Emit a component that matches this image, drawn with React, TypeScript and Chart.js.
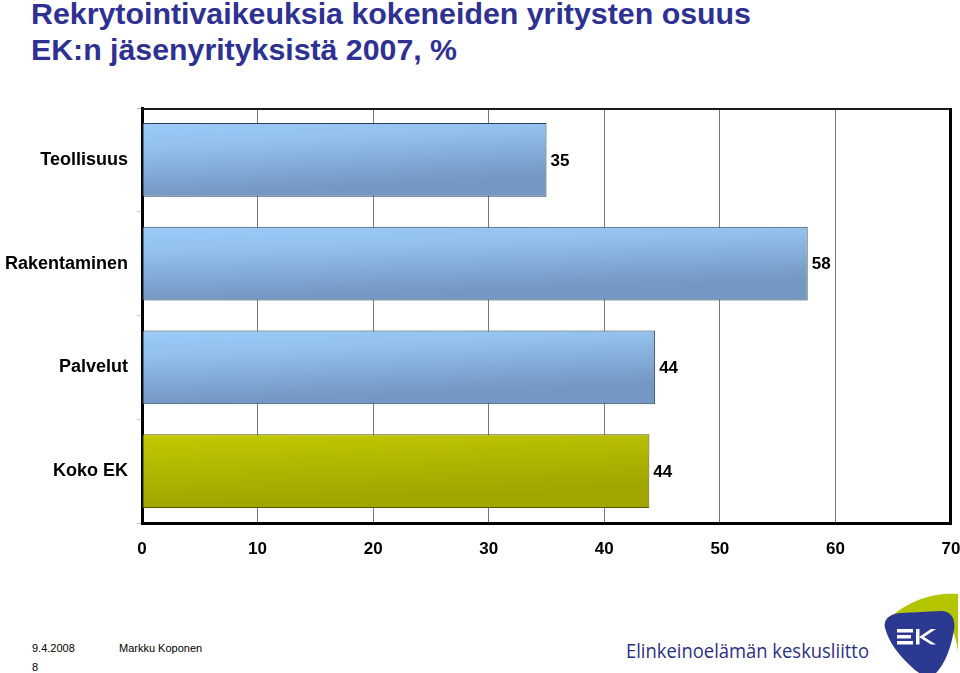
import React, { useEffect, useRef } from "react";
import { Chart, registerables } from "chart.js";

Chart.register(...registerables);

const categories = ["Teollisuus", "Rakentaminen", "Palvelut", "Koko EK"];
const shares = [35.0, 57.6, 44.4, 43.9];
const xTicks = [0, 10, 20, 30, 40, 50, 60, 70];
const titleLines = ["Rekrytointivaikeuksia kokeneiden yritysten osuus", "EK:n jäsenyrityksistä 2007, %"];

const FONT = "'Liberation Sans', Arial, Helvetica, sans-serif";

const blueTop = "#9ccbfa";
const blueBottom = "#7398c3";
const oliveTop = "#c2ca00";
const oliveBottom = "#9fa600";

function barFill(ctx: any) {
  const chart = ctx.chart;
  const area = chart.chartArea;
  const i = ctx.dataIndex;
  const isTotal = i === categories.length - 1;
  if (!area || i === undefined) return isTotal ? oliveTop : blueTop;
  const xs = chart.scales.x;
  const ys = chart.scales.y;
  const x0 = xs.getPixelForValue(0);
  const x1 = xs.getPixelForValue(shares[i]);
  const yc = ys.getPixelForValue(i);
  const half = 37;
  const w = Math.max(1, x1 - x0);
  const dx = (0.3 * (2 * half) * (2 * half)) / w;
  const g = chart.ctx.createLinearGradient(x0, yc - half, x0 + dx, yc + half);
  if (isTotal) {
    g.addColorStop(0, oliveTop);
    g.addColorStop(1, oliveBottom);
  } else {
    g.addColorStop(0, blueTop);
    g.addColorStop(0.35, "#93c0ec");
    g.addColorStop(1, blueBottom);
  }
  return g;
}

const framePlugin = {
  id: "frame",
  afterDraw(chart: any) {
    const { ctx, chartArea } = chart;
    ctx.save();
    ctx.strokeStyle = "#1a1a1a";
    ctx.lineWidth = 2;
    ctx.beginPath();
    ctx.moveTo(chartArea.left, chartArea.top + 1);
    ctx.lineTo(chartArea.right, chartArea.top + 1);
    ctx.stroke();
    ctx.strokeStyle = "#000";
    ctx.lineWidth = 3;
    ctx.beginPath();
    ctx.moveTo(chartArea.right - 0.5, chartArea.top);
    ctx.lineTo(chartArea.right - 0.5, chartArea.bottom);
    ctx.stroke();
    ctx.restore();
  },
};

const valueLabelPlugin = {
  id: "valueLabels",
  afterDatasetsDraw(chart: any) {
    const { ctx } = chart;
    const meta = chart.getDatasetMeta(0);
    ctx.save();
    ctx.font = `bold 17px ${FONT}`;
    ctx.fillStyle = "#000";
    ctx.textAlign = "left";
    ctx.textBaseline = "middle";
    meta.data.forEach((el: any, i: number) => {
      ctx.fillText(String(Math.round(shares[i])), el.x + 4, el.y + 1);
    });
    ctx.restore();
  },
};

function ChartCanvas() {
  const ref = useRef<HTMLCanvasElement | null>(null);
  useEffect(() => {
    if (!ref.current) return;
    const chart = new Chart(ref.current, {
      type: "bar",
      data: {
        labels: categories,
        datasets: [
          {
            data: shares,
            backgroundColor: barFill,
            borderColor: categories.map((_, i) => (i === categories.length - 1 ? "#555800" : "#2e3e52")),
            borderWidth: 1,
            borderSkipped: false,
            categoryPercentage: 1,
            barPercentage: 0.713,
          },
        ],
      },
      options: {
        indexAxis: "y",
        animation: false,
        responsive: false,
        devicePixelRatio: 1,
        layout: { padding: { left: 0, right: 9, top: 108, bottom: 100 } },
        plugins: { legend: { display: false }, tooltip: { enabled: false }, title: { display: false } },
        scales: {
          x: {
            type: "linear",
            min: xTicks[0],
            max: xTicks[xTicks.length - 1],
            afterBuildTicks: (scale: any) => {
              scale.ticks = xTicks.map((v) => ({ value: v }));
            },
            afterFit: (scale: any) => {
              scale.height = 50;
              scale.paddingLeft = 0;
              scale.paddingRight = 0;
            },
            ticks: {
              color: "#000",
              font: { family: FONT, size: 17, weight: "bold" },
              padding: 16,
              maxRotation: 0,
            },
            grid: { color: "#7a7a7a", lineWidth: 1, drawTicks: false },
            border: { display: true, color: "#000", width: 3 },
          },
          y: {
            type: "category",
            afterFit: (scale: any) => {
              scale.width = 142;
              scale.paddingTop = 0;
              scale.paddingBottom = 0;
            },
            ticks: {
              color: "#000",
              font: { family: FONT, size: 18, weight: "bold" },
              padding: 9,
            },
            grid: { drawOnChartArea: false, drawTicks: true, tickLength: 5, color: "#c8c8c8", offset: true },
            border: { display: true, color: "#000", width: 3 },
          },
        },
      },
      plugins: [framePlugin, valueLabelPlugin],
    } as any);
    return () => chart.destroy();
  }, []);
  return (
    <canvas
      ref={ref}
      width={960}
      height={673}
      style={{ position: "absolute", left: 0, top: 0, width: 960, height: 673 }}
    />
  );
}

export default function App() {
  useEffect(() => {
    document.body.style.margin = "0";
  }, []);
  return (
    <div style={{ position: "absolute", left: 0, top: 0, width: 960, height: 673, background: "#fff", overflow: "hidden" }}>
      <svg width={960} height={673} style={{ position: "absolute", left: 0, top: 0 }}>
        <g fontFamily={FONT} fontWeight="bold" fontSize={30} fill="#2e3192">
          <text x={31} y={24} textLength={720} lengthAdjust="spacingAndGlyphs">{titleLines[0]}</text>
          <text x={31} y={60} textLength={426} lengthAdjust="spacingAndGlyphs">{titleLines[1]}</text>
        </g>
        <g fontFamily={FONT} fontSize={11} fill="#000">
          <text x={32} y={652}>9.4.2008</text>
          <text x={119} y={652}>Markku Koponen</text>
          <text x={32} y={671}>8</text>
        </g>
        <text
          x={626}
          y={658}
          fontFamily="'Open Sans', 'DejaVu Sans', sans-serif"
          fontSize={20}
          fill="#2b2f86"
          textLength={243}
          lengthAdjust="spacingAndGlyphs"
        >
          Elinkeinoelämän keskusliitto
        </text>
        <path d="M890 618 C910 598 940 592 958 594 L958 652 C956 632 948 618 935 614 C920 611 905 613 890 618 Z" fill="#b5c400" />
        <path
          d="M885 628 C883 619 890 614 900 613 L941 611 C951 611 956 619 954 630 C951 648 945 663 937 672 C931 678 922 676 915 670 C900 657 889 643 885 628 Z"
          fill="#2b3990"
        />
        <g fill="#fff">
          <rect x={897} y={629} width={16} height={3.5} />
          <rect x={897} y={635} width={14} height={3.5} />
          <rect x={897} y={641} width={16} height={3.5} />
          <rect x={916} y={629} width={3.5} height={15.5} />
          <path d="M919 637 L931 629 L936 629 L924 637 L936 644.5 L931 644.5 Z" />
        </g>
      </svg>
      <ChartCanvas />
    </div>
  );
}
